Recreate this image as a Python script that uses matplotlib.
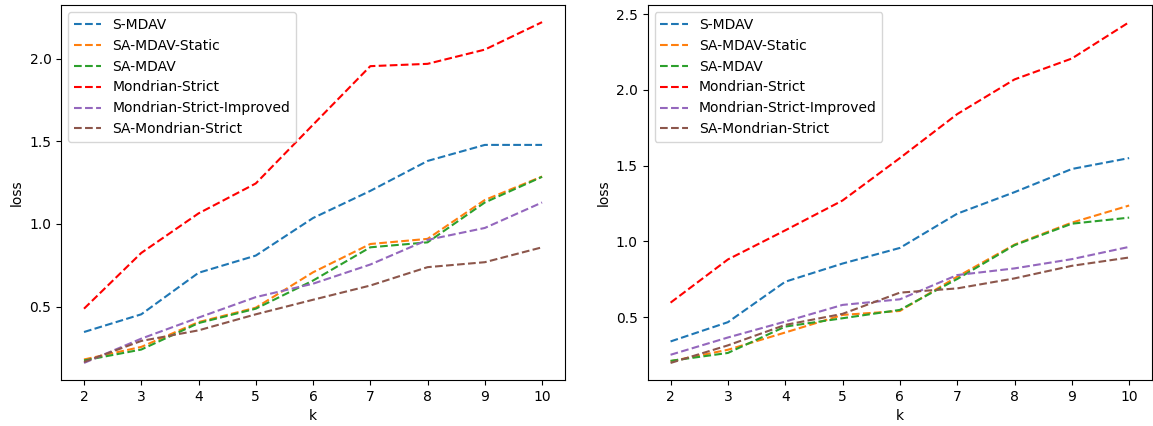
import matplotlib
matplotlib.use("Agg")
import matplotlib.pyplot as plt

k = [2, 3, 4, 5, 6, 7, 8, 9, 10]
labels = ["S-MDAV", "SA-MDAV-Static", "SA-MDAV", "Mondrian-Strict",
          "Mondrian-Strict-Improved", "SA-Mondrian-Strict"]
colors = ["tab:blue", "tab:orange", "tab:green", "red", "tab:purple", "tab:brown"]

# left panel
left_smdav = [0.347, 0.454, 0.705, 0.809, 1.036, 1.20, 1.381, 1.478, 1.478]
left_static = [0.181, 0.257, 0.407, 0.494, 0.708, 0.879, 0.910, 1.145, 1.287]
left_samdav = [0.175, 0.241, 0.401, 0.488, 0.658, 0.859, 0.889, 1.130, 1.285]
left_mondrian = [0.488, 0.825, 1.064, 1.245, 1.60, 1.954, 1.968, 2.054, 2.220]
left_improved = [0.160, 0.307, 0.434, 0.558, 0.639, 0.755, 0.904, 0.976, 1.130]
left_samondrian = [0.166, 0.293, 0.357, 0.454, 0.542, 0.628, 0.739, 0.769, 0.859]

# right panel
right_smdav = [0.340, 0.467, 0.734, 0.854, 0.957, 1.183, 1.325, 1.478, 1.550]
right_static = [0.209, 0.285, 0.399, 0.515, 0.541, 0.767, 0.979, 1.124, 1.237]
right_samdav = [0.212, 0.264, 0.438, 0.493, 0.548, 0.752, 0.975, 1.117, 1.157]
right_mondrian = [0.596, 0.881, 1.073, 1.270, 1.550, 1.840, 2.069, 2.207, 2.447]
right_improved = [0.252, 0.366, 0.471, 0.581, 0.618, 0.778, 0.822, 0.883, 0.964]
right_samondrian = [0.198, 0.314, 0.449, 0.522, 0.662, 0.690, 0.756, 0.839, 0.894]

left_series = [left_smdav, left_static, left_samdav, left_mondrian,
               left_improved, left_samondrian]
right_series = [right_smdav, right_static, right_samdav, right_mondrian,
                right_improved, right_samondrian]

fig = plt.figure(figsize=(11.53, 4.26), dpi=100)
ax1 = fig.add_axes([0.053, 0.108, 0.437, 0.880])
ax2 = fig.add_axes([0.5617, 0.108, 0.4375, 0.880])

for ax, series in ((ax1, left_series), (ax2, right_series)):
    for vals, lab, col in zip(series, labels, colors):
        ax.plot(k, vals, linestyle="--", color=col, label=lab)
    ax.set_xlabel("k")
    ax.set_ylabel("loss")
    ax.legend(loc="upper left")

fig.savefig("out.png", dpi=100)
